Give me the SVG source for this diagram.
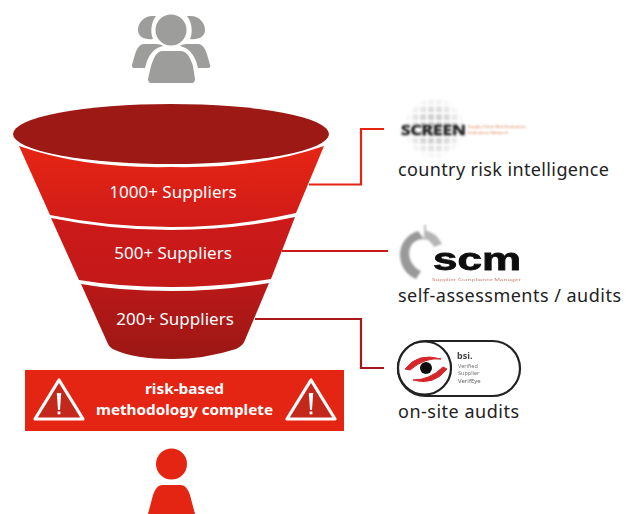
<svg xmlns="http://www.w3.org/2000/svg" width="632" height="514" viewBox="0 0 632 514">
<style>
text{font-family:"Noto Sans","Liberation Sans",sans-serif}
.w{fill:#fff;font-size:17px;text-anchor:middle}
.b{fill:#fff;font-size:15px;font-weight:700;text-anchor:middle}
.k{fill:#222;font-size:18px}
.c{fill:none;stroke-width:2.2}
.g{fill:#9d9d9c}
.r{fill:#e52513}
.t{fill:#c4281b;stroke:#fff;stroke-width:3.200;stroke-linejoin:round}
.x{fill:#fff}
.logo{filter:url(#soft)}
</style>
<defs>
<linearGradient id="g1" x1="0" y1="0" x2="0" y2="1"><stop offset="0" stop-color="#e62514"/><stop offset="1" stop-color="#cf1b18"/></linearGradient>
<linearGradient id="g2" x1="0" y1="0" x2="0" y2="1"><stop offset="0" stop-color="#cc1a19"/><stop offset="1" stop-color="#c41819"/></linearGradient>
<linearGradient id="g3" x1="0" y1="0" x2="0" y2="1"><stop offset="0" stop-color="#ba1818"/><stop offset="1" stop-color="#9b1814"/></linearGradient>
<radialGradient id="fade"><stop offset="0" stop-color="#888"/><stop offset=".55" stop-color="#555"/><stop offset="1" stop-color="#000"/></radialGradient>
<pattern id="dots" x="403" y="97" width="8" height="8" patternUnits="userSpaceOnUse"><rect x="1" y="1" width="6" height="6" fill="#8a8a8a"/></pattern>
<mask id="halo"><circle cx="434" cy="128" r="31" fill="url(#fade)"/></mask>
<filter id="soft" x="-5%" y="-5%" width="110%" height="110%"><feGaussianBlur stdDeviation=".45"/></filter>
<filter id="soft2" x="-10%" y="-10%" width="120%" height="120%"><feGaussianBlur stdDeviation="1"/></filter>
<filter id="soft3" x="-5%" y="-5%" width="110%" height="110%"><feGaussianBlur stdDeviation=".8"/></filter>
</defs>
<g id="connectors">
<path class="c" stroke="#e52513" d="M309 184.500H361V129H384"/>
<path class="c" stroke="#c81a1a" d="M282 251H388"/>
<path class="c" stroke="#a81818" d="M255 319H361V368H384"/>
</g>
<g id="icon-group">
<path class="g" d="M152 16C145 16 138 22 138 30C138 37 145 40 153 39C150 33 151 22 156 16Z"/>
<path class="g" d="M191 16C198 16 205 22 205 30C205 37 198 40 190 39C193 33 192 22 187 16Z"/>
<circle class="g" cx="171" cy="30" r="15.500"/>
<path class="g" d="M143 44H156C160 44 162 45 163 46C154 48 150 54 147 61L145 68H134C132 68 132 66 132 65C135 55 136 46 143 44Z"/>
<path class="g" d="M199 44H187C183 44 181 45 180 46C189 48 193 54 196 61L198 68H208C210 68 211 66 210 65C207 55 206 46 199 44Z"/>
<path class="g" d="M163 51H180C188 51 190 58 193 66L195 79C195 81 194 83 192 83H151C149 83 148 81 148 79L151 66C154 58 156 51 163 51Z"/>
</g>
<g id="funnel">
<ellipse cx="171" cy="134" rx="158" ry="30" fill="#9c1915"/>
<path id="band1" fill="url(#g1)" d="M19 146Q85 169 171 167Q258 169 324 146L296 213Q235 227 171 227Q108 227 50 215Z"/>
<path id="band2" fill="url(#g2)" d="M51 218Q110 230 171 230Q235 230 295 217L271 279Q220 287 171 287Q120 287 79 280Z"/>
<path id="band3" fill="url(#g3)" d="M81 284Q120 291 171 291Q220 291 269 283L245 340Q243 346 236 349Q205 359 172 359Q135 359 115 350Q110 348 108 344Z"/>
<text class="w" x="173" y="198">1000+ Suppliers</text>
<text class="w" x="173" y="259">500+ Suppliers</text>
<text class="w" x="175" y="325">200+ Suppliers</text>
</g>
<g id="banner">
<rect class="r" x="25" y="370" width="319" height="61"/>
<path class="t" d="M59 380L35 419H83Z"/>
<path class="t" d="M311 380L287 419H335Z"/>
<path class="x" d="M56.800 393H61.200L60 410H58Z"/>
<path class="x" d="M308.800 393H313.200L312 410H310Z"/>
<rect class="x" x="57.600" y="411.500" width="2.800" height="2.800"/>
<rect class="x" x="309.600" y="411.500" width="2.800" height="2.800"/>
<text class="b" x="184.500" y="394" textLength="79" lengthAdjust="spacingAndGlyphs">risk-based</text>
<text class="b" x="184.500" y="415" textLength="177" lengthAdjust="spacingAndGlyphs">methodology complete</text>
</g>
<g id="icon-person">
<circle class="r" cx="171.500" cy="464" r="15.500"/>
<path class="r" d="M163 485H180C186 485 188 490 190 495L195 514H148L153 495C155 490 157 485 163 485Z"/>
</g>
<g id="screen">
<rect x="400" y="95" width="70" height="68" fill="url(#dots)" mask="url(#halo)" filter="url(#soft3)"/>
<g filter="url(#soft3)">
<text x="401" y="135" font-size="15" font-weight="700" fill="#222" textLength="65" lengthAdjust="spacingAndGlyphs" stroke="#222" stroke-width=".5">SCREEN</text>
<text x="468" y="128" font-size="3.500" fill="#d8703c" textLength="58" lengthAdjust="spacingAndGlyphs">Supply Chain Risk Evaluation</text>
<text x="468" y="134" font-size="3.500" fill="#d8703c" textLength="40" lengthAdjust="spacingAndGlyphs">Evaluation Network</text>
</g>
<text class="k" x="398" y="176" textLength="211">country risk intelligence</text>
</g>
<g id="scm">
<g filter="url(#soft2)">
<path d="M418 231C405 235 397 248 401 262C403 270 409 276 416 279L421 271C412 267 407 257 410 248C412 242 418 239 424 239Z" fill="#999"/>
<path d="M424 230Q436 232 442 244L434 247Q430 240 424 238Z" fill="#b5b5b5"/>
<rect x="424" y="225" width="2" height="15" fill="#bbb"/>
</g>
<g class="logo">
<text x="433" y="270" font-size="32" font-weight="700" fill="#111" textLength="88" lengthAdjust="spacingAndGlyphs" stroke="#111" stroke-width=".8" style="font-family:'Liberation Sans',sans-serif">scm</text>
<text x="432" y="281" font-size="3.500" fill="#c87a70" textLength="89" lengthAdjust="spacingAndGlyphs">Supplier Compliance Manager</text>
</g>
<text class="k" x="398" y="302" textLength="223">self-assessments / audits</text>
</g>
<g id="bsi">
<g class="logo">
<rect x="398" y="341" width="122" height="55" rx="27.500" fill="#fff" stroke="#222" stroke-width="2.200"/>
<circle cx="424.500" cy="368" r="26.500" fill="#fff" stroke="#222" stroke-width="2.200"/>
<path d="M405 369Q418 352 441 359Q425 357 410 370Z" fill="#d6272b" stroke="#d6272b"/>
<path d="M447 369Q434 386 413 380Q430 380 443 367Z" fill="#d6272b" stroke="#d6272b"/>
<circle cx="426" cy="368" r="6" fill="#111"/>
<text x="457" y="359" font-size="9" font-weight="700" fill="#444">bsi.</text>
<text x="458" y="368" font-size="5.500" fill="#777">Verified</text>
<text x="458" y="375" font-size="5.500" fill="#777">Supplier</text>
<text x="458" y="383" font-size="6" fill="#666">VerifEye</text>
</g>
<text class="k" x="398" y="418" textLength="121">on-site audits</text>
</g>
</svg>
